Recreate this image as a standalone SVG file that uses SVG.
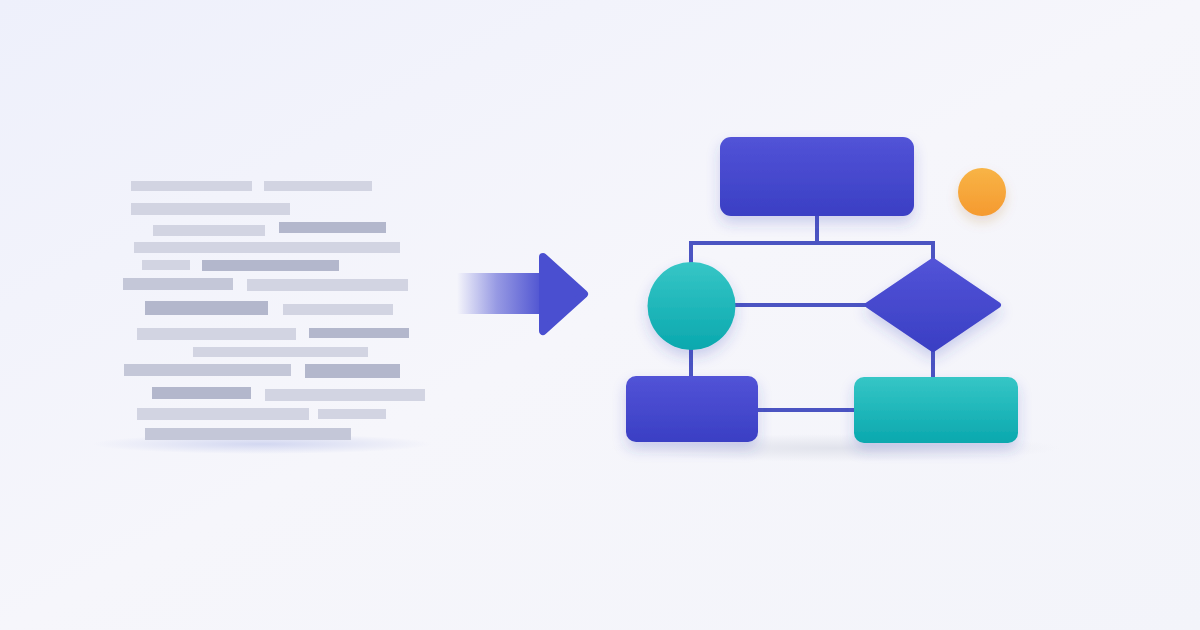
<svg xmlns="http://www.w3.org/2000/svg" width="1200" height="630" viewBox="0 0 1200 630">
<defs>
<linearGradient id="bg" x1="0" y1="0" x2="1" y2="1">
<stop offset="0" stop-color="#eef0fb"/>
<stop offset="0.5" stop-color="#f6f6fb"/>
<stop offset="1" stop-color="#f3f4fa"/>
</linearGradient>
<linearGradient id="indigo" x1="0" y1="0" x2="0" y2="1">
<stop offset="0" stop-color="#5253d7"/>
<stop offset="1" stop-color="#3a3fc4"/>
</linearGradient>
<linearGradient id="teal" x1="0" y1="0" x2="0" y2="1">
<stop offset="0" stop-color="#36c6c6"/>
<stop offset="1" stop-color="#0aa8ae"/>
</linearGradient>
<linearGradient id="orange" x1="0" y1="0" x2="0" y2="1">
<stop offset="0" stop-color="#f8b446"/>
<stop offset="1" stop-color="#f59a30"/>
</linearGradient>
<linearGradient id="shaft" gradientUnits="userSpaceOnUse" x1="457" y1="0" x2="545" y2="0">
<stop offset="0" stop-color="#4a4fd0" stop-opacity="0"/>
<stop offset="0.45" stop-color="#4a4fd0" stop-opacity="0.55"/>
<stop offset="1" stop-color="#4a4fd0"/>
</linearGradient>
<radialGradient id="plat" cx="0.5" cy="0.5" r="0.5">
<stop offset="0" stop-color="#c9cfee" stop-opacity="0.8"/>
<stop offset="1" stop-color="#c9cfee" stop-opacity="0"/>
</radialGradient>
<radialGradient id="plat2" cx="0.5" cy="0.5" r="0.5">
<stop offset="0" stop-color="#dfe1ea" stop-opacity="0.9"/>
<stop offset="1" stop-color="#dfe1ea" stop-opacity="0"/>
</radialGradient>
<filter id="sh" x="-40%" y="-40%" width="180%" height="200%">
<feDropShadow dx="0" dy="7" stdDeviation="7" flood-color="#3a40b8" flood-opacity="0.22"/>
</filter>
<filter id="shO" x="-60%" y="-60%" width="220%" height="240%">
<feDropShadow dx="0" dy="6" stdDeviation="6" flood-color="#b07020" flood-opacity="0.2"/>
</filter>
<style>
.l{fill:#d2d4e2}
.m{fill:#c4c7d8}
.d{fill:#b3b7cc}
.con{fill:none;stroke:#4b54c2;stroke-width:4;stroke-linecap:square}
</style>
</defs>
<rect width="1200" height="630" fill="url(#bg)"/>

<g id="text-lines">
<ellipse cx="262" cy="444" rx="170" ry="10" fill="url(#plat)"/>
<rect class="l" x="131" y="181" width="121" height="10"/>
<rect class="l" x="264" y="181" width="108" height="10"/>
<rect class="l" x="131" y="203" width="159" height="12"/>
<rect class="l" x="153" y="225" width="112" height="11"/>
<rect class="d" x="279" y="222" width="107" height="11"/>
<rect class="l" x="134" y="242" width="266" height="11"/>
<rect class="l" x="142" y="260" width="48" height="10"/>
<rect class="d" x="202" y="260" width="137" height="11"/>
<rect class="m" x="123" y="278" width="110" height="12"/>
<rect class="l" x="247" y="279" width="161" height="12"/>
<rect class="d" x="145" y="301" width="123" height="14"/>
<rect class="l" x="283" y="304" width="110" height="11"/>
<rect class="l" x="137" y="328" width="159" height="12"/>
<rect class="d" x="309" y="328" width="100" height="10"/>
<rect class="l" x="193" y="347" width="175" height="10"/>
<rect class="m" x="124" y="364" width="167" height="12"/>
<rect class="d" x="305" y="364" width="95" height="14"/>
<rect class="d" x="152" y="387" width="99" height="12"/>
<rect class="l" x="265" y="389" width="160" height="12"/>
<rect class="l" x="137" y="408" width="172" height="12"/>
<rect class="l" x="318" y="409" width="68" height="10"/>
<rect class="m" x="145" y="428" width="206" height="12"/>
</g>

<g id="arrow">
<rect x="457" y="273" width="88" height="41" fill="url(#shaft)"/>
<path d="M543 257 L584 294 L543 331 Z" fill="#4a4fd0" stroke="#4a4fd0" stroke-width="8" stroke-linejoin="round"/>
</g>

<ellipse cx="835" cy="448" rx="225" ry="14" fill="url(#plat2)"/>

<g id="connectors">
<line class="con" x1="817" y1="216" x2="817" y2="243"/>
<polyline class="con" points="691,262 691,243 933,243 933,259"/>
<line class="con" x1="736" y1="305" x2="866" y2="305"/>
<line class="con" x1="691" y1="350" x2="691" y2="376"/>
<line class="con" x1="933" y1="350" x2="933" y2="377"/>
<line class="con" x1="758" y1="410" x2="854" y2="410"/>
</g>

<g id="node-top">
<rect x="720" y="137" width="194" height="79" rx="11" fill="url(#indigo)" filter="url(#sh)"/>
</g>
<g id="node-orange">
<circle cx="982" cy="192" r="24" fill="url(#orange)" filter="url(#shO)"/>
</g>
<g id="node-circle">
<circle cx="691.5" cy="306" r="44" fill="url(#teal)" filter="url(#sh)"/>
</g>
<g id="node-diamond">
<path d="M933 261 L998 305 L933 349 L868 305 Z" fill="url(#indigo)" stroke="url(#indigo)" stroke-width="6" stroke-linejoin="round" filter="url(#sh)"/>
</g>
<g id="node-bottom-left">
<rect x="626" y="376" width="132" height="66" rx="10" fill="url(#indigo)" filter="url(#sh)"/>
</g>
<g id="node-bottom-right">
<rect x="854" y="377" width="164" height="66" rx="10" fill="url(#teal)" filter="url(#sh)"/>
</g>
</svg>
